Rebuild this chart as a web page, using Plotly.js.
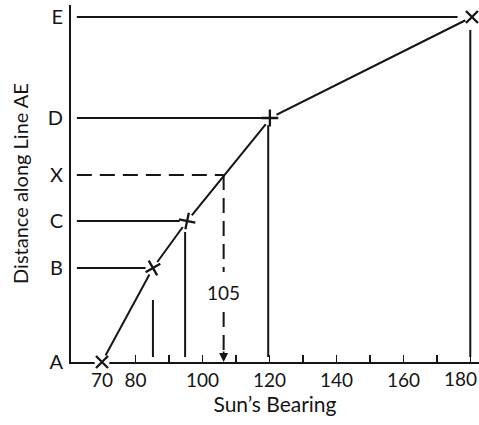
<!DOCTYPE html>
<html><head><meta charset="utf-8">
<script src="https://cdn.plot.ly/plotly-3.0.1.min.js"></script>
<style>html,body{margin:0;padding:0;background:#fff}#c{width:479px;height:425px}</style>
</head><body><div id="c"></div>
<script>
// Points along line AE
const pointLabels = ['A', 'B', 'C', 'D', 'E'];
const bearings = [70, 85.2, 95.4, 120.1, 180.4];
const distances = [0, 94, 141, 244, 345];
// bend of the curve just before D
const bendBearing = 118.7, bendDistance = 237;
// reading point X
const xLabel = 'X';
const xDistance = 187;
const xBearing = 106.3;
const xBearingText = '105';
// drop lines (vertical) from points to axis
const dropBearings = [85.2, 94.8, 119.6, 179.9];
const dropTops = [62, 130, 237, 332];
// horizontal lines from axis to points
const hEnds = [83.7, 93.9, 117.8, 176.1];
const hLevels = [94, 141, 244, 345];
const xTickVals = [70, 80, 90, 100, 110, 120, 130, 140, 150, 160, 170, 180];
const xTickText = ['70', '80', '', '100', '', '120', '', '140', '', '160', '', '180'];

const ink = '#151515';
const font = 'Lato, "Open Sans", sans-serif';
const traces = [];
const axisLeft = 62.5, axisBottom = 5;

hEnds.forEach((xe, i) => {
  traces.push({x: [axisLeft, xe], y: [hLevels[i], hLevels[i]], mode: 'lines',
    line: {color: ink, width: 2}, hoverinfo: 'skip', showlegend: false});
});
dropBearings.forEach((xb, i) => {
  traces.push({x: [xb, xb], y: [dropTops[i], axisBottom], mode: 'lines',
    line: {color: ink, width: 2}, hoverinfo: 'skip', showlegend: false});
});
const cx = [bearings[0], bearings[1], bearings[2], bendBearing, bearings[3], bearings[4]];
const cy = [distances[0], distances[1], distances[2], bendDistance, distances[3], distances[4]];
traces.push({x: cx, y: cy, mode: 'lines', line: {color: ink, width: 2},
  hoverinfo: 'skip', showlegend: false});
traces.push({x: [axisLeft, xBearing], y: [xDistance, xDistance], mode: 'lines',
  line: {color: ink, width: 2, dash: '15px,8px'}, hoverinfo: 'skip', showlegend: false});
traces.push({x: [xBearing, xBearing], y: [xDistance, 90], mode: 'lines',
  line: {color: ink, width: 2, dash: '15px,8px'}, hoverinfo: 'skip', showlegend: false});
traces.push({x: [xBearing, xBearing], y: [50, 6], mode: 'lines',
  line: {color: ink, width: 2, dash: '15px,8px'}, hoverinfo: 'skip', showlegend: false});
// white halo under markers
traces.push({x: bearings, y: distances, mode: 'markers', cliponaxis: false,
  marker: {symbol: 'circle', size: 15, color: '#fff', line: {width: 0}},
  hoverinfo: 'skip', showlegend: false});
const syms = ['x-thin', 'x-thin', 'cross-thin', 'cross-thin', 'x-thin'];
const angs = [0, 15, 12, 0, 0];
traces.push({x: bearings, y: distances, mode: 'markers', cliponaxis: false,
  marker: {symbol: syms, angle: angs, size: 12, color: ink, line: {color: ink, width: 2.3}},
  hoverinfo: 'skip', showlegend: false});

const yTickVals = distances.concat([xDistance]);
const yTickText = pointLabels.concat([xLabel]);

// the last tick label sits at the very edge: draw it as a right-anchored text
const lastIdx = xTickText.length - 1;
const axisTickText = xTickText.map((t, i) => i === lastIdx ? '' : t);

const layout = {
  width: 479, height: 425,
  margin: {l: 71, r: 0, t: 5, b: 63},
  paper_bgcolor: '#fff', plot_bgcolor: '#fff',
  font: {family: font, color: ink},
  xaxis: {range: [60.75, 182.5], showgrid: false, zeroline: false,
    showline: true, linecolor: ink, linewidth: 2, layer: 'below traces',
    tickvals: xTickVals, ticktext: axisTickText, ticks: 'inside', ticklen: 7,
    tickwidth: 1.5, tickcolor: ink, tickfont: {size: 19, family: font},
    title: {text: 'Sun’s Bearing', font: {size: 21, family: font}, standoff: 6}},
  yaxis: {range: [0, 357], showgrid: false, zeroline: false,
    showline: true, linecolor: ink, linewidth: 2, layer: 'below traces',
    tickvals: yTickVals, ticktext: yTickText, ticks: '',
    tickfont: {size: 20, family: font}, ticklabelstandoff: 2,
    title: {text: 'Distance along Line AE', font: {size: 20, family: font}, standoff: 14}},
  annotations: [
    {x: xBearing, y: 70, text: xBearingText, showarrow: false,
      font: {size: 19, family: font, color: ink}, xanchor: 'center'},
    {x: xBearing, y: 0, ax: 0, ay: -12, text: '', showarrow: true,
      arrowhead: 2, arrowsize: 1, arrowwidth: 1.8, arrowcolor: ink},
    {x: 1, xref: 'paper', y: 0, yref: 'paper', yshift: -3, text: xTickText[lastIdx],
      showarrow: false, xanchor: 'right', yanchor: 'top',
      font: {size: 19, family: font, color: ink}}
  ]
};
Plotly.newPlot('c', traces, layout, {displayModeBar: false, staticPlot: true});
</script></body></html>
